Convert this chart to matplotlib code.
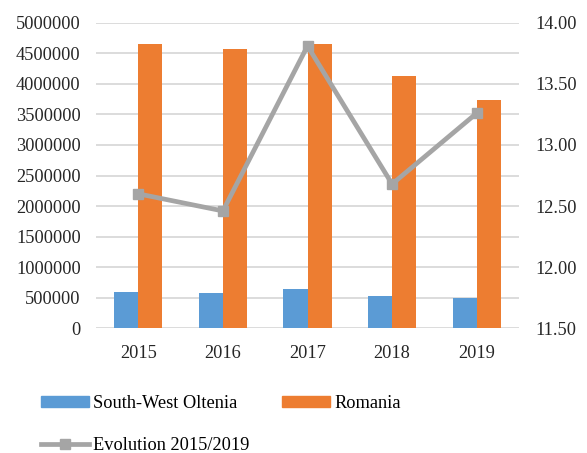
import matplotlib
matplotlib.use("Agg")
import matplotlib.pyplot as plt
import numpy as np
from matplotlib.patches import Patch
from matplotlib.lines import Line2D

years = ["2015", "2016", "2017", "2018", "2019"]
sw_oltenia = [593000, 572000, 642000, 528000, 500000]
romania = [4657000, 4575000, 4657000, 4120000, 3730000]
evolution = [12.60, 12.46, 13.81, 12.68, 13.26]

plt.rcParams['font.family'] = ['Liberation Serif', 'DejaVu Serif']
FS = 13.2

fig = plt.figure(figsize=(5.87, 4.53), dpi=100)
ax = fig.add_axes([96/587, 1-328.3/453, (519-96)/587, (328.3-22.7)/453])

x = np.arange(len(years))
w = 0.284
blue = '#5B9BD5'
orange = '#ED7D31'
gray = '#A5A5A5'
ax.bar(x - w/2, sw_oltenia, w, color=blue, zorder=2)
ax.bar(x + w/2, romania, w, color=orange, zorder=2)
ax.set_xlim(-0.5, 4.5)
ax.set_ylim(0, 5000000)
ax.set_yticks(np.arange(0, 5000001, 500000))
ax.set_yticklabels([str(v) for v in range(0, 5000001, 500000)])
ax.set_xticks(x)
ax.set_xticklabels(years)
ax.grid(axis='y', color='#D9D9D9', linewidth=1.3, zorder=0)
ax.set_axisbelow(True)
for s in ax.spines.values():
    s.set_visible(False)
ax.tick_params(length=0, labelsize=FS, colors='#262626')
ax.tick_params(axis='y', pad=11)
ax.tick_params(axis='x', pad=12)

ax2 = ax.twinx()
ax2.plot(x, evolution, color=gray, linewidth=3.4, marker='s', markersize=7.5, zorder=3)
ax2.set_ylim(11.5, 14.0)
ax2.set_yticks(np.arange(11.5, 14.01, 0.5))
ax2.set_yticklabels([f"{v:.2f}" for v in np.arange(11.5, 14.01, 0.5)])
for s in ax2.spines.values():
    s.set_visible(False)
ax2.tick_params(length=0, pad=12, labelsize=FS, colors='#262626')

handles = [Patch(color=blue, label='South-West Oltenia'),
           Line2D([0], [0], color=gray, linewidth=3.4, marker='s', markersize=7.5, label='Evolution 2015/2019'),
           Patch(color=orange, label='Romania')]
fig.legend(handles=handles, ncol=2, loc='upper left', bbox_to_anchor=(28/587, 1-382/453),
           frameon=False, handlelength=2.6, handleheight=0.5, handletextpad=0.25,
           columnspacing=1.8, labelspacing=1.38, fontsize=FS, borderpad=0.2)

fig.savefig('out.png', dpi=100)
